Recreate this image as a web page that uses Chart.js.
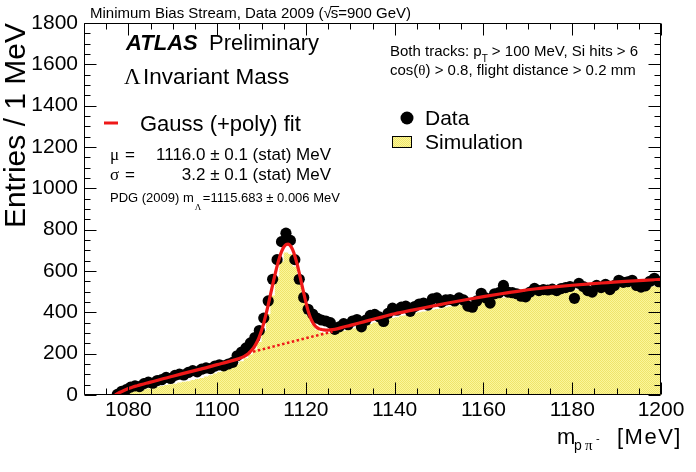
<!DOCTYPE html>
<html>
<head>
<meta charset="utf-8">
<script src="https://cdn.jsdelivr.net/npm/chart.js@4.4.1/dist/chart.umd.min.js"></script>
<style>
html,body{margin:0;padding:0;background:#fff;}
canvas{display:block;}
</style>
</head>
<body>
<canvas id="c" width="696" height="472"></canvas>
<script>
// ---------------- data ----------------
const xTickLabels = [1080, 1100, 1120, 1140, 1160, 1180, 1200];
const yTickLabels = [0, 200, 400, 600, 800, 1000, 1200, 1400, 1600, 1800];

// Data: entries per 1 MeV bin, first bin 1077-1078 MeV
const dataFirstBin = 1077;
const dataCounts = [
  3, 18, 26, 38, 44, 41, 55, 62, 57, 70,          // 1077-1086
  74, 85, 80, 95, 101, 97, 109, 118, 112, 125,    // 1087-1096
  131, 128, 140, 146, 141, 150, 158, 190, 208, 228, // 1097-1106
  252, 278, 312, 372, 455, 560, 655, 742, 783, 748, // 1107-1116
  655, 560, 472, 415, 392, 372, 363, 358, 350, 318, // 1117-1126
  330, 345, 340, 358, 365, 330, 362, 385, 390, 378, // 1127-1136
  356, 395, 420, 410, 425, 430, 405, 428, 440, 445, // 1137-1146
  435, 465, 470, 448, 460, 462, 455, 470, 460, 430, // 1147-1156
  425, 455, 492, 470, 445, 490, 495, 530, 498, 495, // 1157-1166
  490, 478, 475, 498, 516, 505, 510, 508, 512, 505, // 1167-1176
  515, 520, 525, 468, 540, 525, 505, 498, 530, 520, // 1177-1186
  535, 510, 530, 555, 545, 548, 555, 530, 522, 528, // 1187-1196
  550, 565, 548                                     // 1197-1199
];

// Simulation histogram, first bin 1078-1079 MeV
const simFirstBin = 1078;
const simCounts = [
  4, 9, 14, 19, 23, 28, 31, 36, 40, 43,           // 1078-1087
  48, 52, 55, 60, 64, 67, 72, 77, 82, 89,         // 1088-1097
  96, 104, 111, 119, 128, 138, 149, 163, 178, 196, // 1098-1107
  220, 256, 310, 392, 482, 572, 646, 690, 682, 622, // 1108-1117
  536, 452, 386, 342, 316, 304, 300, 301, 301, 306, // 1118-1127
  311, 315, 322, 326, 333, 340, 344, 351, 357, 361, // 1128-1137
  368, 372, 376, 383, 386, 392, 395, 401, 404, 407, // 1138-1147
  413, 416, 419, 425, 428, 431, 437, 440, 443, 448, // 1148-1157
  452, 454, 459, 462, 464, 469, 471, 473, 478, 480, // 1158-1167
  482, 486, 489, 491, 494, 496, 497, 500, 502, 503, // 1168-1177
  506, 508, 509, 511, 512, 513, 515, 516, 516, 518, // 1178-1187
  519, 520, 521, 522, 522, 523, 524, 524, 525, 525, // 1188-1197
  526, 526                                          // 1198-1199
];

// Gauss (+poly) fit curve
const fitMass = [1077, 1078, 1079, 1080, 1081, 1082, 1084, 1086, 1088, 1090, 1092, 1094, 1096, 1098, 1100, 1102, 1104, 1105, 1106, 1107, 1108,
  1108.5, 1109, 1109.5, 1110, 1110.5, 1111, 1111.5, 1112, 1112.5, 1113, 1113.5, 1114, 1114.5, 1115, 1115.5, 1116, 1116.5, 1117, 1117.5,
  1118, 1118.5, 1119, 1119.5, 1120, 1120.5, 1121, 1121.5, 1122, 1122.5, 1123, 1123.5, 1124, 1125, 1126, 1127, 1128, 1130, 1133, 1136,
  1140, 1144, 1148, 1152, 1156, 1160, 1164, 1168, 1172, 1176, 1180, 1184, 1188, 1192, 1196, 1200];
const fitValue = [0, 12, 22, 31, 39, 45, 57, 68, 80, 91, 102, 113, 124, 135, 147, 158, 170, 177, 186, 200, 222,
  238, 258, 282, 312, 348, 390, 436, 484, 533, 580, 624, 662, 694, 716, 728, 730, 722, 703, 673,
  635, 590, 542, 494, 448, 407, 375, 352, 336, 326, 320, 317, 315, 314, 316, 320, 326, 337, 354, 371,
  393, 411, 428, 445, 461, 476, 490, 503, 514, 523, 531, 538, 544, 550, 555, 559];

// Background (poly) part under the peak, dotted
const bkgMass = [1107, 1112, 1116, 1120, 1124, 1126];
const bkgValue = [203, 231, 253, 275, 296, 306];

// ---------------- drawing ----------------
const SANS = '"Liberation Sans", Arial, Helvetica, sans-serif';
const SERIF = '"Liberation Serif", "DejaVu Serif", serif';
const RED = '#ee1818';

const canvas = document.getElementById('c');
const ctx = canvas.getContext('2d');

// yellow dithered fill like the original
const pc = document.createElement('canvas');
pc.width = 2; pc.height = 2;
const pctx = pc.getContext('2d');
pctx.fillStyle = '#fbf79a'; pctx.fillRect(0, 0, 2, 2);
pctx.fillStyle = '#efe46c'; pctx.fillRect(0, 0, 1, 1); pctx.fillRect(1, 1, 1, 1);
const yellowFill = ctx.createPattern(pc, 'repeat');

const dataPts = dataCounts.map((v, i) => ({x: dataFirstBin + i + 0.5, y: v}));
const simPts = simCounts.map((v, i) => ({x: simFirstBin + i, y: v}));
simPts.push({x: simFirstBin + simCounts.length, y: simCounts[simCounts.length - 1]});
const fitPts = fitMass.map((m, i) => ({x: m, y: fitValue[i]}));
const bkgPts = bkgMass.map((m, i) => ({x: m, y: bkgValue[i]}));

const whiteBg = {
  id: 'whiteBg',
  beforeDraw(chart) {
    const c = chart.ctx;
    c.save(); c.fillStyle = '#fff'; c.fillRect(0, 0, chart.width, chart.height); c.restore();
  }
};

const frame = {
  id: 'frame',
  afterDatasetsDraw(chart) {
    const c = chart.ctx, a = chart.chartArea, xs = chart.scales.x, ys = chart.scales.y;
    const L = Math.round(a.left) + 0.5, R = Math.round(a.right) - 0.5;
    const T = Math.round(a.top) + 0.5, B = Math.round(a.bottom) - 0.5;
    c.save();
    c.strokeStyle = '#000'; c.lineWidth = 1;
    c.beginPath();
    c.rect(L, T, R - L, B - T);
    for (let v = xs.min; v <= xs.max; v += 5) {
      const px = Math.round(xs.getPixelForValue(v)) + 0.5;
      const len = (v % 20 === 0) ? 12 : 6;
      c.moveTo(px, B); c.lineTo(px, B - len);
      c.moveTo(px, T); c.lineTo(px, T + len);
    }
    for (let v = ys.min; v <= ys.max; v += 50) {
      const py = Math.round(ys.getPixelForValue(v)) + 0.5;
      const len = (v % 200 === 0) ? 12 : 6;
      c.moveTo(L, py); c.lineTo(L + len, py);
      c.moveTo(R, py); c.lineTo(R - len, py);
    }
    c.stroke();
    c.restore();
  }
};

function txt(c, s, x, y, font, align) {
  c.font = font; c.textAlign = align || 'left'; c.textBaseline = 'alphabetic';
  c.fillText(s, x, y);
  return c.measureText(s).width;
}

const texts = {
  id: 'texts',
  afterDraw(chart) {
    const c = chart.ctx;
    c.save();
    c.fillStyle = '#000';
    // top title
    let x = 90;
    const TF = '15px ' + SANS;
    x += txt(c, 'Minimum Bias Stream, Data 2009 (', x, 18, TF);
    const wr = txt(c, '\u221A', x, 18, TF);
    const sx = x + wr - 1;
    const ws = txt(c, 's', sx, 18, TF);
    c.beginPath(); c.lineWidth = 1; c.strokeStyle = '#000';
    c.moveTo(sx, 6.5); c.lineTo(sx + ws + 1, 6.5); c.stroke();
    txt(c, '=900 GeV)', sx + ws, 18, TF);

    // y axis title
    c.save();
    c.translate(25, 23); c.rotate(-Math.PI / 2);
    txt(c, 'Entries / 1 MeV', 0, 0, '30px ' + SANS, 'right');
    c.restore();

    // x axis title
    txt(c, 'm', 557, 444, '22px ' + SANS);
    txt(c, 'p', 574, 450, '14px ' + SANS);
    txt(c, '\u03C0', 585, 450, '15px ' + SERIF);
    txt(c, '-', 596, 442, '11px ' + SANS);
    c.save(); c.letterSpacing = '1.5px';
    txt(c, '[MeV]', 617, 444, '22px ' + SANS);
    c.restore();

    // ATLAS Preliminary
    txt(c, 'ATLAS', 126, 50, 'italic bold 22px ' + SANS);
    txt(c, 'Preliminary', 209, 50, '22px ' + SANS);
    txt(c, '\u039B', 124, 84, '23px ' + SERIF);
    txt(c, 'Invariant Mass', 143, 84, '22.5px ' + SANS);

    // fit legend
    c.beginPath(); c.strokeStyle = RED; c.lineWidth = 3;
    c.moveTo(104, 123); c.lineTo(118, 123); c.stroke();
    txt(c, 'Gauss (+poly) fit', 140, 131, '22px ' + SANS);

    txt(c, '\u03BC', 110, 160, '17px ' + SERIF);
    txt(c, '=', 125, 160, '17px ' + SANS);
    txt(c, '1116.0 \u00B1 0.1 (stat) MeV', 331, 160, '17px ' + SANS, 'right');
    txt(c, '\u03C3', 110, 180, '17px ' + SERIF);
    txt(c, '=', 125, 180, '17px ' + SANS);
    txt(c, '3.2 \u00B1 0.1 (stat) MeV', 331, 180, '17px ' + SANS, 'right');

    x = 110;
    x += txt(c, 'PDG (2009) m', x, 202, '13px ' + SANS);
    txt(c, '\u039B', x + 1, 210, '9px ' + SERIF);
    txt(c, '=1115.683 \u00B1 0.006 MeV', x + 9, 202, '13px ' + SANS);

    // cuts
    x = 390;
    x += txt(c, 'Both tracks: p', x, 56, '15px ' + SANS);
    txt(c, 'T', x, 62, '10px ' + SANS);
    txt(c, ' > 100 MeV, Si hits > 6', x + 6, 56, '15px ' + SANS);
    x = 390;
    x += txt(c, 'cos(', x, 75, '15px ' + SANS);
    x += txt(c, '\u03B8', x, 75, '15px ' + SERIF);
    txt(c, ') > 0.8, flight distance > 0.2 mm', x, 75, '15px ' + SANS);

    // legend
    c.beginPath(); c.fillStyle = '#000';
    c.arc(407, 118, 6.5, 0, Math.PI * 2); c.fill();
    txt(c, 'Data', 425, 125, '21px ' + SANS);
    c.fillStyle = yellowFill; c.fillRect(392, 136, 20, 12);
    c.strokeStyle = '#000'; c.lineWidth = 1; c.strokeRect(392.5, 136.5, 19, 11);
    c.fillStyle = '#000';
    txt(c, 'Simulation', 425, 149, '21px ' + SANS);
    c.restore();
  }
};

new Chart(ctx, {
  type: 'scatter',
  data: {
    datasets: [
      {
        label: 'Gauss (+poly) fit', type: 'line', data: fitPts,
        borderColor: RED, borderWidth: 3.2, pointRadius: 0, fill: false,
        cubicInterpolationMode: 'monotone', order: 0
      },
      {
        label: 'background', type: 'line', data: bkgPts,
        borderColor: RED, borderWidth: 2.5, borderDash: [2.5, 2.5], pointRadius: 0, fill: false,
        tension: 0, order: 1
      },
      {
        label: 'Data', data: dataPts,
        pointRadius: 5.6, pointHoverRadius: 5.6, backgroundColor: '#000', borderColor: '#000', borderWidth: 0,
        order: 2
      },
      {
        label: 'Simulation', type: 'line', data: simPts, stepped: true,
        fill: 'origin', backgroundColor: yellowFill, borderWidth: 0, borderColor: 'rgba(0,0,0,0)',
        pointRadius: 0, order: 3
      }
    ]
  },
  options: {
    responsive: false,
    animation: false,
    devicePixelRatio: 1,
    layout: {padding: {left: 0, top: 23, right: 35, bottom: 0}},
    plugins: {legend: {display: false}, tooltip: {enabled: false}},
    events: [],
    scales: {
      x: {
        type: 'linear', min: 1070, max: 1200,
        afterBuildTicks: s => { s.ticks = xTickLabels.map(v => ({value: v})); },
        afterFit: s => { s.height = 77; },
        grid: {display: false, drawTicks: false},
        border: {display: false},
        ticks: {
          font: {family: SANS, size: 21}, color: '#000', padding: 3,
          maxRotation: 0, autoSkip: false, callback: v => String(v)
        }
      },
      y: {
        type: 'linear', min: 0, max: 1800,
        afterBuildTicks: s => { s.ticks = yTickLabels.map(v => ({value: v})); },
        afterFit: s => { s.width = 84; },
        grid: {display: false, drawTicks: false},
        border: {display: false},
        ticks: {
          font: {family: SANS, size: 21}, color: '#000', padding: 6,
          autoSkip: false, callback: v => String(v)
        }
      }
    }
  },
  plugins: [whiteBg, frame, texts]
});
</script>
</body>
</html>
